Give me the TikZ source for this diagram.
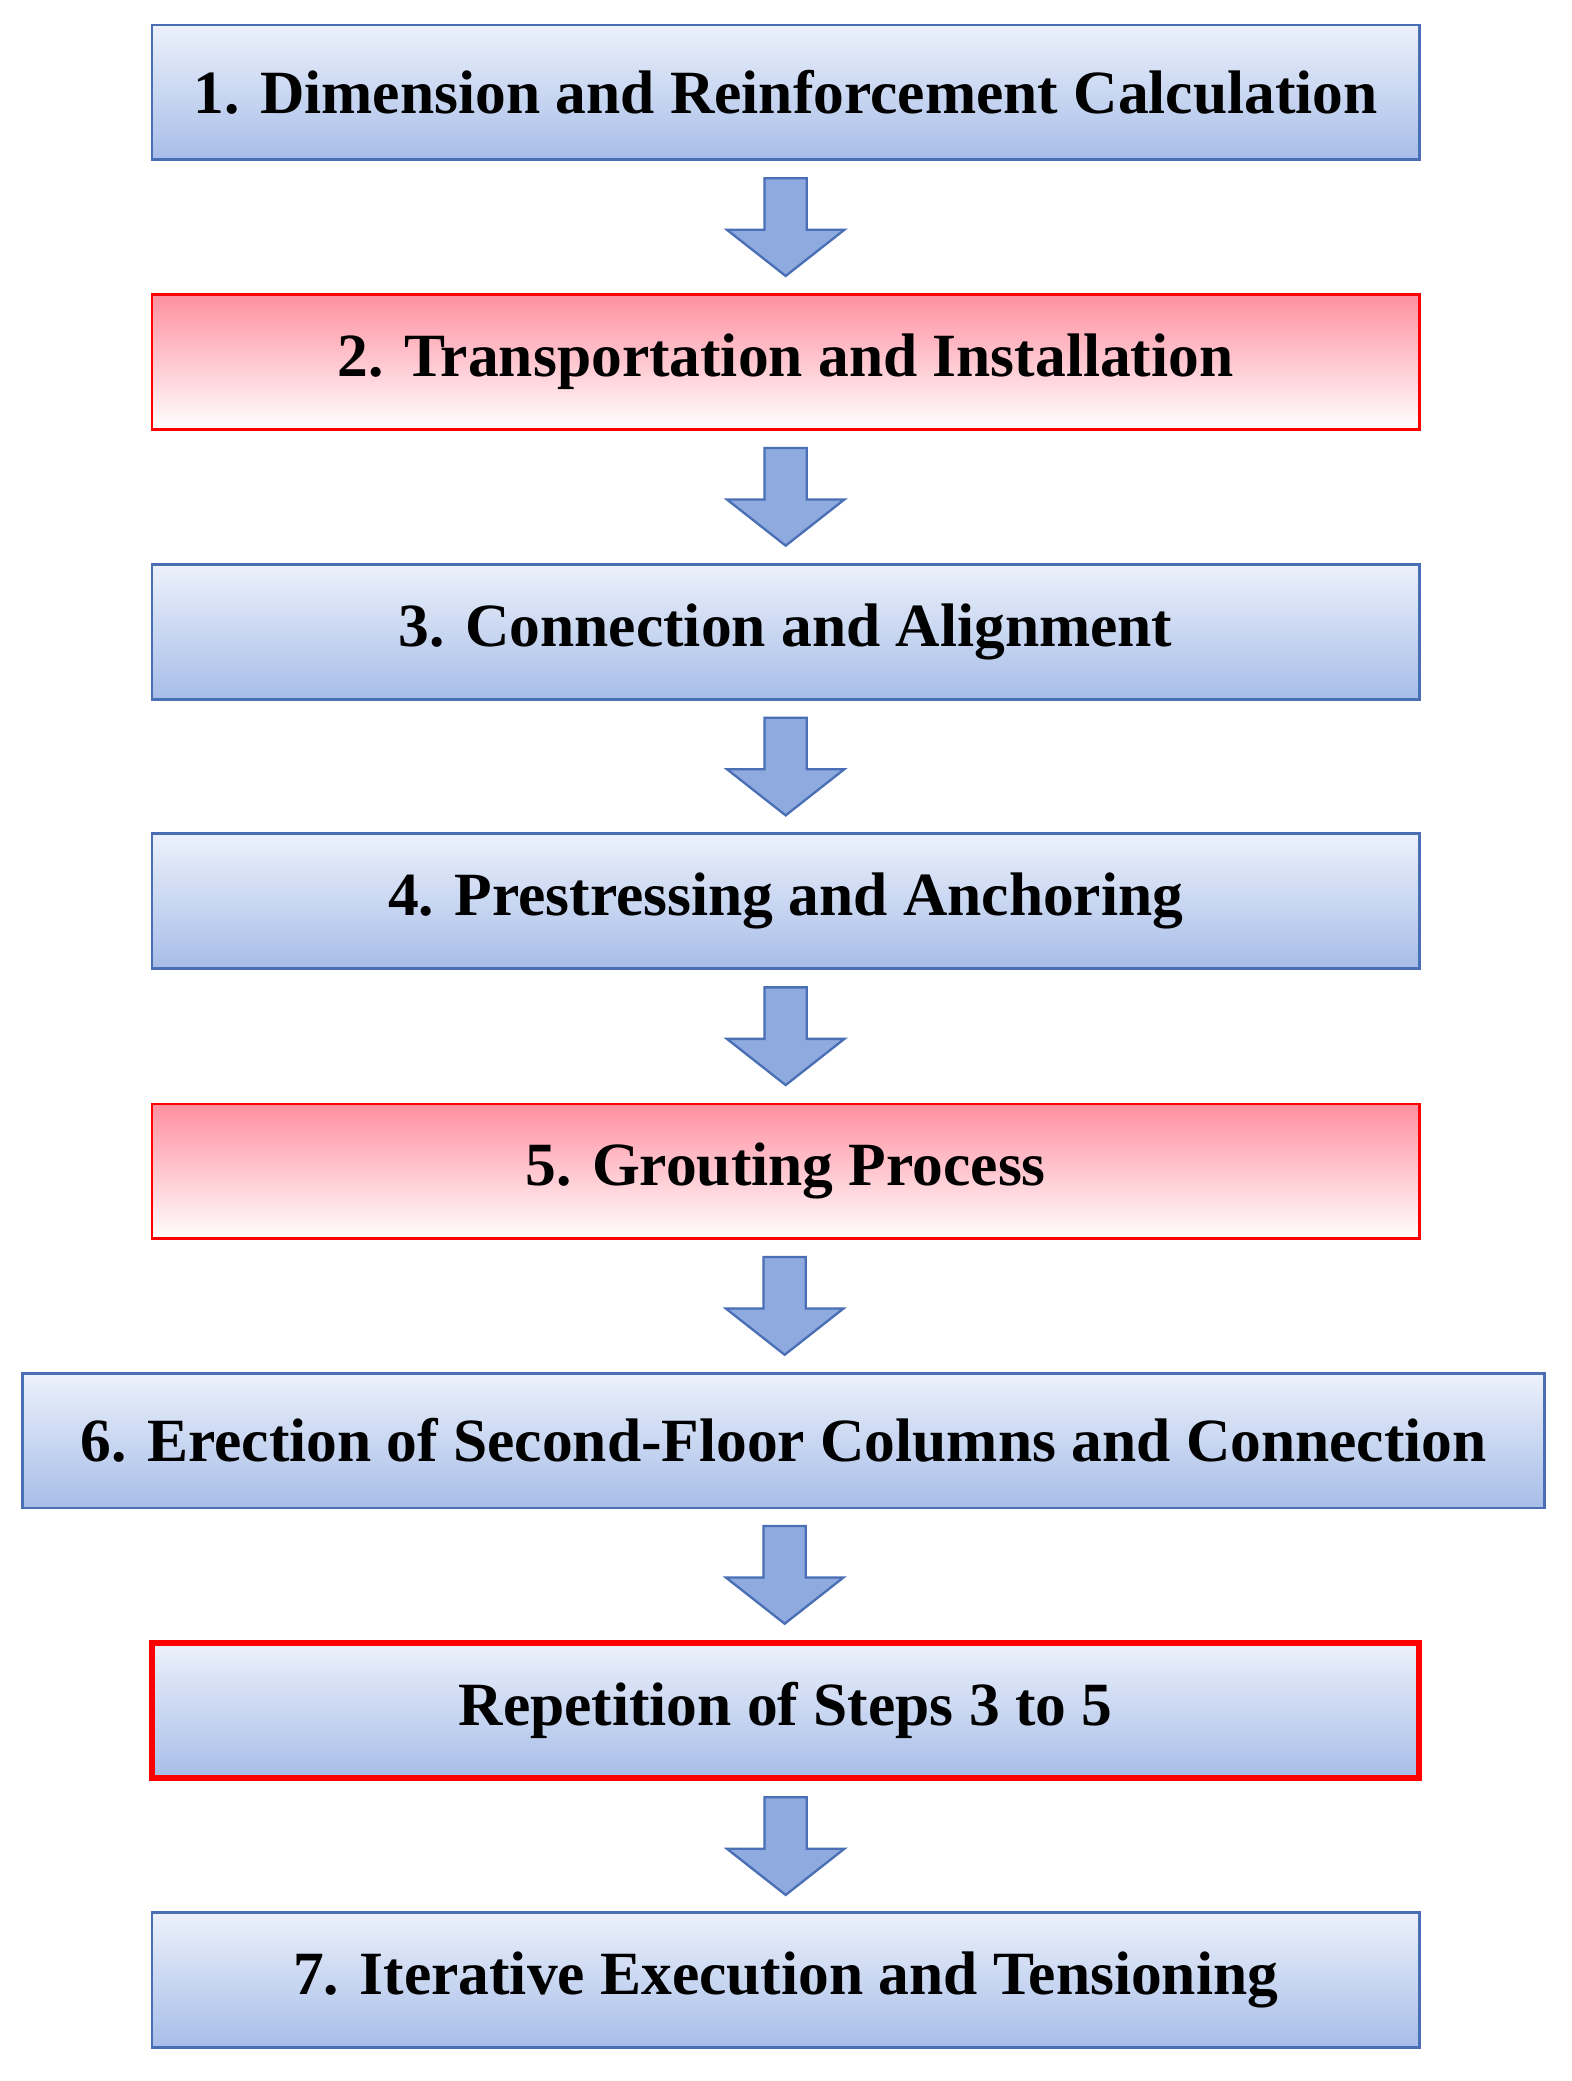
\documentclass[tikz,border=0pt]{standalone}
\usepackage{fontspec}
\setmainfont{Liberation Serif}
\usetikzlibrary{calc}
\definecolor{bbord}{HTML}{4A6FB5}
\definecolor{btop}{HTML}{ECF1FB}
\definecolor{bbot}{HTML}{A7BDE8}
\definecolor{rtop}{HTML}{FF8FA0}
\definecolor{afill}{HTML}{8EAADF}
\begin{document}
\begin{tikzpicture}[x=0.02cm,y=0.02cm,
  box/.style={draw=bbord,line width=1.2pt,top color=btop,bottom color=bbot,minimum width=19.2cm,minimum height=2.04cm,font=\fontsize{26.5}{30}\selectfont\bfseries,inner sep=0pt},
  rbox/.style={box,draw=red,top color=rtop,bottom color=white},
  arr/.style={draw=bbord,fill=afill,line width=1pt,line join=miter}]
\useasboundingbox (0,0) rectangle (1190,-1576);
\node[box] (b1) at (595,-70) {1. Dimension and Reinforcement Calculation};
\node[rbox] (b2) at (595,-274) {2. Transportation and Installation};
\node[box] (b3) at (595,-478.5) {3. Connection and Alignment};
\node[box] (b4) at (595,-682.5) {4. Prestressing and Anchoring};
\node[rbox] (b5) at (595,-887) {5. Grouting Process};
\node[box,minimum width=23.06cm] (b6) at (593.5,-1091) {6. Erection of Second-Floor Columns and Connection};
\node[box,draw=red,line width=2.5pt] (b7) at (595,-1295.5) {Repetition of Steps 3 to 5};
\node[box] (b8) at (595,-1499.5) {7. Iterative Execution and Tensioning};
\foreach \a/\b in {b1/b2,b2/b3,b3/b4,b4/b5,b5/b6,b6/b7,b7/b8}{
  \coordinate (m\a) at ($(\a.south)!0.5!(\b.north)$);
  \draw[arr,shift={(m\a)}] (-16,37) -- (16,37) -- (16,-2) -- (44.5,-2) -- (0,-37) -- (-44.5,-2) -- (-16,-2) -- cycle;
}
\end{tikzpicture}
\end{document}
